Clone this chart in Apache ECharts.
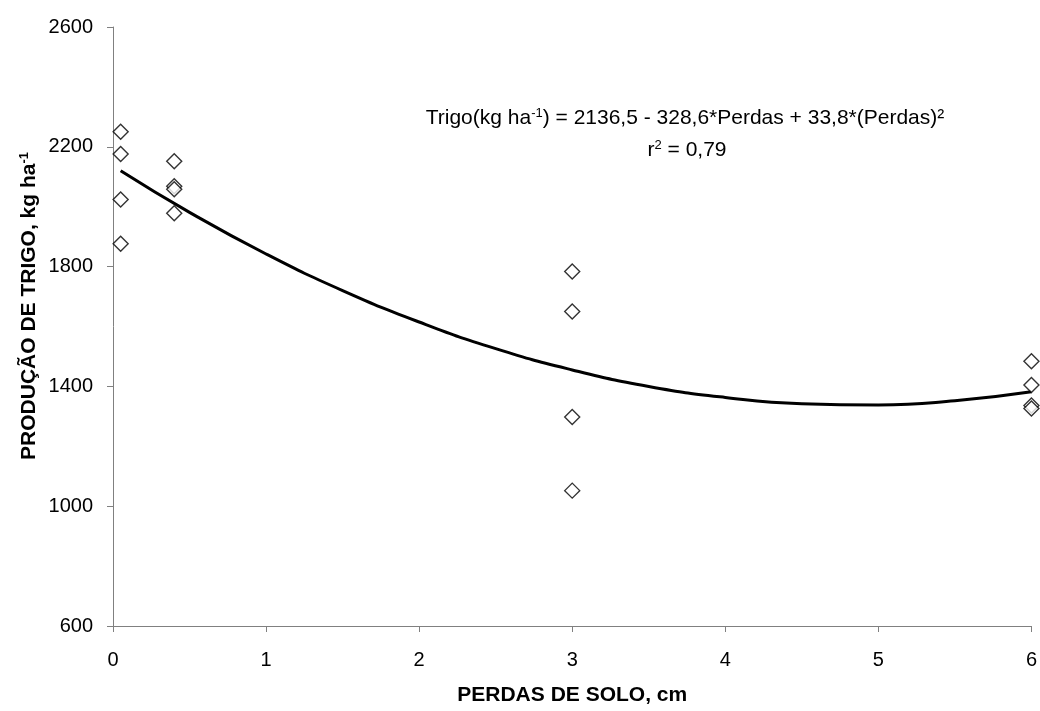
<!DOCTYPE html>
<html>
<head>
<meta charset="utf-8">
<script src="https://cdn.jsdelivr.net/npm/echarts@6/dist/echarts.min.js"></script>
<style>
  html, body { margin: 0; padding: 0; background: #fff; }
  #chart { width: 1040px; height: 711px; }
</style>
</head>
<body>
<div id="chart"></div>
<script>
// observed points (perdas de solo, cm -> producao, kg/ha)
var perdas = [0.05, 0.05, 0.05, 0.05, 0.4, 0.4, 0.4, 0.4, 3, 3, 3, 3, 6, 6, 6, 6];
var producao = [2250, 2176, 2024, 1876, 2152, 2068, 2058, 1978, 1784, 1650, 1298, 1052, 1484, 1405, 1336, 1326];

// fitted curve
var curveX = [0.05, 0.5, 1, 1.5, 2, 2.5, 3, 3.5, 4, 4.5, 5, 5.5, 6];
var curveY = [2120, 1981, 1842, 1720, 1615, 1526, 1455, 1400, 1363, 1342, 1338, 1352, 1382];

var xTicks = [0, 6, 1];
var yTicks = [600, 2600, 400];

var font = 'Liberation Sans, Arial, sans-serif';

var pts = perdas.map(function (x, i) { return [x, producao[i]]; });
var curve = curveX.map(function (x, i) { return [x, curveY[i]]; });

var myChart = echarts.init(document.getElementById('chart'));
var options = {
    animation: false,
    backgroundColor: '#fff',
    grid: { left: 113, right: 7, top: 27, bottom: 81 },
    xAxis: {
        type: 'value',
        min: xTicks[0], max: xTicks[1], interval: xTicks[2],
        name: 'PERDAS DE SOLO, cm',
        nameLocation: 'middle',
        nameGap: 59,
        nameTextStyle: { fontFamily: font, fontSize: 21, fontWeight: 'bold', color: '#000' },
        axisLine: { show: true, onZero: false, lineStyle: { color: '#808080', width: 1 } },
        axisTick: { show: true, inside: false, length: 6, lineStyle: { color: '#808080' } },
        axisLabel: { fontFamily: font, fontSize: 20, color: '#000', margin: 24 },
        splitLine: { show: false }
    },
    yAxis: {
        type: 'value',
        min: yTicks[0], max: yTicks[1], interval: yTicks[2],
        axisLine: { show: true, onZero: false, lineStyle: { color: '#808080', width: 1 } },
        axisTick: { show: true, inside: false, length: 6, lineStyle: { color: '#808080' } },
        axisLabel: {
            fontFamily: font, fontSize: 20, color: '#000', margin: 20,
            formatter: function (v) { return String(v); }
        },
        splitLine: { show: false }
    },
    graphic: [{
        // y axis title
        type: 'text',
        x: 29,
        y: 306,
        rotation: Math.PI / 2,
        style: {
            text: 'PRODUÇÃO DE TRIGO, kg ha{sup|-1}',
            fontFamily: font, fontSize: 21, fontWeight: 'bold', fill: '#000',
            align: 'center', verticalAlign: 'middle',
            rich: { sup: { fontFamily: font, fontSize: 13, fontWeight: 'bold', fill: '#000', padding: [0, 0, 10, 0] } }
        }
    }, {
        type: 'text',
        x: 685,
        y: 118,
        style: {
            text: 'Trigo(kg ha{sup|-1}) = 2136,5 - 328,6*Perdas + 33,8*(Perdas)²',
            fontFamily: font, fontSize: 21, fill: '#000',
            align: 'center', verticalAlign: 'middle',
            rich: { sup: { fontFamily: font, fontSize: 13, fill: '#000', padding: [0, 0, 10, 0] } }
        }
    }, {
        type: 'text',
        x: 687,
        y: 150,
        style: {
            text: 'r{sup|2} = 0,79',
            fontFamily: font, fontSize: 21, fill: '#000',
            align: 'center', verticalAlign: 'middle',
            rich: { sup: { fontFamily: font, fontSize: 13, fill: '#000', padding: [0, 0, 10, 0] } }
        }
    }],
    series: [{
        type: 'line',
        data: curve,
        smooth: true,
        showSymbol: false,
        lineStyle: { color: '#000', width: 3 },
        z: 2
    }, {
        type: 'scatter',
        data: pts,
        symbol: 'diamond',
        symbolSize: 15,
        itemStyle: { color: '#fff', borderColor: '#000', borderWidth: 1.4 },
        z: 3
    }]
};
myChart.setOption(options);
</script>
</body>
</html>
